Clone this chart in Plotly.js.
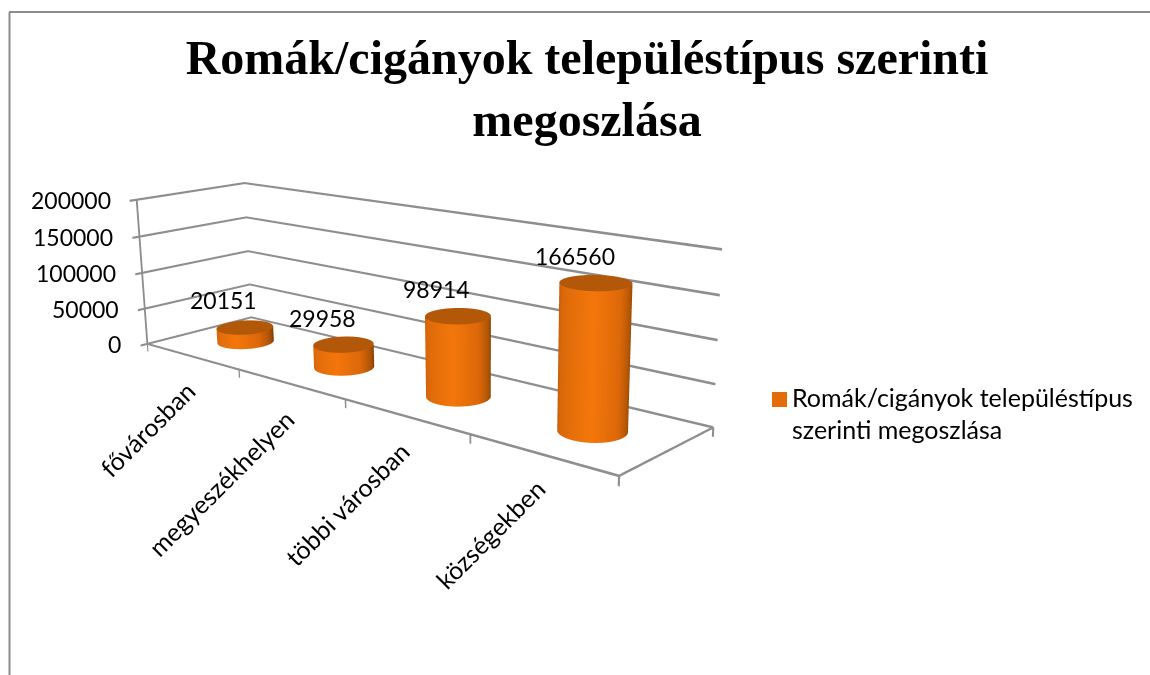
<!DOCTYPE html>
<html><head><meta charset="utf-8"><script src="https://cdn.plot.ly/plotly-3.0.1.min.js"></script>
<style>html,body{margin:0;padding:0;background:#fff;width:1150px;height:675px;overflow:hidden}#w{position:relative;width:1150px;height:675px;overflow:hidden}#c{position:absolute;left:0}</style></head><body><div id="w"><div id="c"></div></div>
<script>
const categories=['fővárosban','megyeszékhelyen','többi városban','községekben'];
const values=[20151,29958,98914,166560];
const zTicks=[0,50000,100000,150000,200000];
const seriesName='Romák/cigányok településtípus<br>szerinti megoszlása';
const titleText='Romák/cigányok településtípus szerinti<br>megoszlása';
const XR=[-0.15,4.05],YR=[-0.1,1.05],ZR=[-15000,202000];
const W=1150,HL=1060,cy=337,off=HL/2-cy;
const eye={x:4.8328,y:-5.0724,z:1.7523},center={x:-0.3883,y:0.9704,z:-0.4482},up={x:0.1171,y:-0.1233,z:1};
const aspect={x:3.7357,y:0.9922,z:1};
document.getElementById('c').style.top=(-off)+'px';
const py=y=>1-(y+off)/HL;
const traces=[];
const LC=[[0,'#8e8e8e'],[1,'#8e8e8e']],flat={ambient:1,diffuse:0,specular:0,fresnel:0,roughness:1};
function ribbon(pts,dx,dz){const X=[],Y=[],Z=[],C=[];for(const q of pts){X.push([q[0]-dx,q[0]+dx]);Y.push([q[1],q[1]]);Z.push([q[2]-dz,q[2]+dz]);C.push([0,0])}
 traces.push({type:'surface',x:X,y:Y,z:Z,surfacecolor:C,cmin:0,cmax:1,colorscale:LC,showscale:false,hoverinfo:'skip',lighting:flat})}
const DZ=1500,DX=0.011,nCat=categories.length,zMax=zTicks[zTicks.length-1];
for(const z of zTicks){ribbon([[0,-0.06,z],[0,0,z],[0,1,z],[nCat,1,z]],0,DZ)}
ribbon([[0,0,0],[0,0,zMax]],DX,0);
ribbon([[0,0,0],[nCat,0,0]],0,DZ);ribbon([[nCat,0,0],[nCat,1,0]],0,DZ);
for(let i=0;i<=nCat;i++)ribbon([[i,0,0],[i,0,-11000]],DX*0.6,0);
ribbon([[nCat,1,0],[nCat,1,-11000]],DX*0.6,0);
const rx=0.2,ry=rx*(aspect.x/(XR[1]-XR[0]))/(aspect.y/(YR[1]-YR[0]));
const phi=Math.atan2(eye.y-center.y,eye.x-center.x);
const cs=[[0,'#c45c08'],[0.1,'#d9680a'],[0.45,'#f3760a'],[0.7,'#dc6809'],[0.88,'#a85205'],[1,'#7a3a02']];
values.forEach((val,i)=>{const X=[],Y=[],Z=[],C=[];const xc=i+0.5,yc=0.5;
 for(let k=0;k<=96;k++){const t=k/96*2*Math.PI,xx=xc+rx*Math.cos(t),yy=yc+ry*Math.sin(t);
  let a=t-phi;while(a>Math.PI)a-=2*Math.PI;while(a<-Math.PI)a+=2*Math.PI;
  const c=Math.max(0,Math.min(1,(a+Math.PI/2)/Math.PI));
  X.push([xx,xx]);Y.push([yy,yy]);Z.push([0,val]);C.push([c,c])}
 traces.push({type:'surface',x:X,y:Y,z:Z,surfacecolor:C,cmin:0,cmax:1,colorscale:cs,showscale:false,hoverinfo:'skip',lighting:flat});
 const X2=[],Y2=[],Z2=[],C2=[];
 for(let k=0;k<=96;k++){const t=k/96*2*Math.PI;X2.push([xc,xc+rx*Math.cos(t)]);Y2.push([yc,yc+ry*Math.sin(t)]);Z2.push([val,val]);C2.push([0,0])}
 traces.push({type:'surface',x:X2,y:Y2,z:Z2,surfacecolor:C2,cmin:0,cmax:1,colorscale:[[0,'#b35808'],[1,'#b35808']],showscale:false,hoverinfo:'skip',lighting:flat});
});
traces.push({type:'scatter3d',mode:'markers',x:[NaN],y:[NaN],z:[NaN],name:seriesName,marker:{color:'rgba(0,0,0,0)',symbol:'square',size:15,line:{width:0}},showlegend:true});
const tf={family:'Lato, sans-serif',size:23,color:'#000'},lf={family:'Lato, sans-serif',size:25,color:'#000'};
const ann=[];
zTicks.forEach(z=>ann.push({x:0,y:0,z,text:String(z),showarrow:false,xanchor:'right',yanchor:'middle',xshift:-24,font:tf}));
categories.forEach((c,i)=>ann.push({x:i+0.5,y:0,z:0,text:c,showarrow:false,textangle:-45,xanchor:'right',yanchor:'top',xshift:12,yshift:-17,font:lf}));
values.forEach((v,i)=>ann.push({x:i+0.5,y:0.5,z:v,text:String(v),showarrow:false,xanchor:'center',yanchor:'middle',xshift:-21,yshift:27,font:tf}));
const layout={width:W,height:HL,margin:{l:0,r:0,t:0,b:0},paper_bgcolor:'#fff',
 title:{text:titleText,x:587/W,xanchor:'center',y:py(74),yanchor:'top',font:{family:'Liberation Serif, serif',size:48,color:'#000',weight:'bold'}},
 scene:{domain:{x:[0,900/W],y:[0,1]},bgcolor:'rgba(0,0,0,0)',aspectmode:'manual',aspectratio:aspect,
  camera:{eye,center,up,projection:{type:'perspective'}},
  xaxis:{visible:false,range:XR},yaxis:{visible:false,range:YR},zaxis:{visible:false,range:ZR},annotations:ann},
 legend:{x:760/W,y:py(374),xanchor:'left',yanchor:'top',indentation:-8,font:{family:'Lato, sans-serif',size:25,color:'#000'},bgcolor:'rgba(0,0,0,0)'},
 shapes:[{type:'line',xref:'paper',yref:'paper',x0:9.5/W,x1:9.5/W,y0:py(675),y1:py(12),line:{color:'#8c8c8c',width:2}},{type:'line',xref:'paper',yref:'paper',x0:9/W,x1:1,y0:py(12),y1:py(12),line:{color:'#8c8c8c',width:2}},
 {type:'rect',xref:'paper',yref:'paper',x0:772/W,x1:787/W,y0:py(407),y1:py(392),fillcolor:'#e36c09',line:{width:0}}]};
Plotly.newPlot('c',traces,layout,{displayModeBar:false});
</script></body></html>
